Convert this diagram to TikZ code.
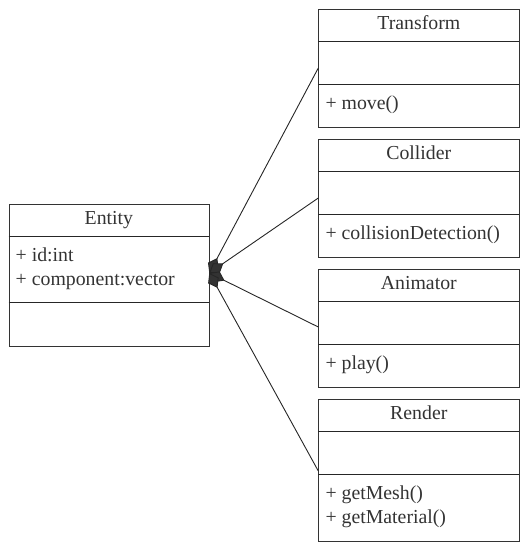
\documentclass[tikz,border=0pt]{standalone}
\usepackage{fontspec}
\setmainfont{Liberation Serif}
\usetikzlibrary{arrows.meta}
\begin{document}
\begin{tikzpicture}[x=1pt,y=-1pt,
  classbox/.style={draw=black!80, line width=1pt, inner sep=0pt, minimum width=201pt, anchor=north west},
  sepline/.style={draw=black!85, line width=1pt},
  title/.style={anchor=base, inner sep=0pt, font=\fontsize{19.8}{23.7}\selectfont, text=black!80},
  member/.style={anchor=base west, inner sep=0pt, font=\fontsize{19.8}{23.7}\selectfont, text=black!80},
  agg/.style={draw=black!85, line width=0.9pt, {Diamond[length=17pt,width=12pt,fill=black!80]}-}]
\useasboundingbox (0,0) rectangle (529,552);
% Entity
\node[classbox, minimum width=200.8pt, minimum height=141.4pt] (entity) at (8.5,204.3) {};
\draw[sepline] (8.5,236.7) -- (209.3,236.7);
\draw[sepline] (8.5,302.7) -- (209.3,302.7);
\node[title] (entityT) at (108.9,224.3) {Entity};
\node[member] (entityA1) at (15.5,261.7) {+ id:int};
\node[member] (entityA2) at (15.5,285.7) {+ component:vector};
% Transform
\node[classbox, minimum height=117.4pt] (transform) at (318.3,9.3) {};
\draw[sepline] (318.3,41.7) -- (519.3,41.7);
\draw[sepline] (318.3,84) -- (519.3,84);
\node[title] (transformT) at (418.8,29.3) {Transform};
\node[member] (transformM1) at (325.3,109.5) {+ move()};
% Collider
\node[classbox, minimum height=117.4pt] (collider) at (318.3,139.3) {};
\draw[sepline] (318.3,171.7) -- (519.3,171.7);
\draw[sepline] (318.3,214) -- (519.3,214);
\node[title] (colliderT) at (418.8,159.3) {Collider};
\node[member] (colliderM1) at (325.3,239.5) {+ collisionDetection()};
% Animator
\node[classbox, minimum height=117.4pt] (animator) at (318.3,269.3) {};
\draw[sepline] (318.3,301.7) -- (519.3,301.7);
\draw[sepline] (318.3,344) -- (519.3,344);
\node[title] (animatorT) at (418.8,289.3) {Animator};
\node[member] (animatorM1) at (325.3,369.5) {+ play()};
% Render
\node[classbox, minimum height=141.4pt] (render) at (318.3,399.3) {};
\draw[sepline] (318.3,431.7) -- (519.3,431.7);
\draw[sepline] (318.3,474) -- (519.3,474);
\node[title] (renderT) at (418.8,419.3) {Render};
\node[member] (renderM1) at (325.3,499.5) {+ getMesh()};
\node[member] (renderM2) at (325.3,523.5) {+ getMaterial()};
% connectors
\coordinate (aggpt) at (209.3,273);
\coordinate (tIn) at (318.3,68);
\coordinate (cIn) at (318.3,198);
\coordinate (aIn) at (318.3,327);
\coordinate (rIn) at (318.3,471);
\draw[agg] (aggpt) -- (tIn);
\draw[agg] (aggpt) -- (cIn);
\draw[agg] (aggpt) -- (aIn);
\draw[agg] (aggpt) -- (rIn);
\end{tikzpicture}
\end{document}
